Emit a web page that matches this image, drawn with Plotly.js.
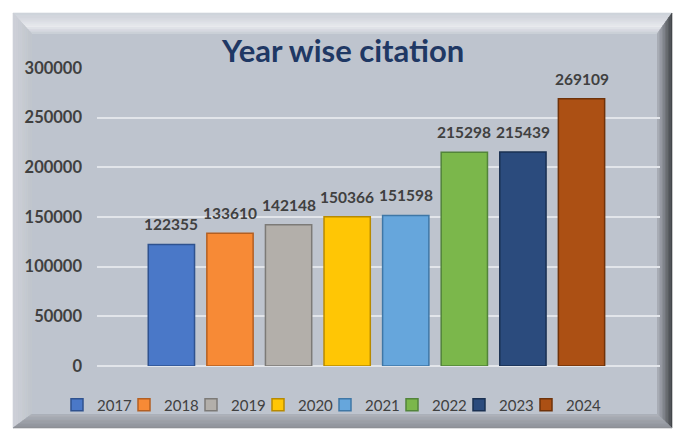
<!DOCTYPE html>
<html><head><meta charset="utf-8">
<script src="https://cdn.plot.ly/plotly-3.0.1.min.js"></script>
<style>html,body{margin:0;padding:0;background:#fff;}#chart{width:677px;height:429px;}</style>
</head><body><div id="chart"></div>
<script>
// ---- data ----
var years = ['2017','2018','2019','2020','2021','2022','2023','2024'];
var citations = [122355,133610,142148,150366,151598,215298,215439,269109];
var fillColors = ['#4a78c8','#f78a36','#b3afaa','#ffc605','#66a6dc','#7bb74b','#2b4b7d','#ac5014'];
var edgeColors = ['#2f528f','#b35f22','#7c7a77','#b88a00','#3f77a6','#52843a','#1a3052','#6f3209'];
var titleText = 'Year wise citation';
var yTicks = [0,50000,100000,150000,200000,250000,300000];

// ---- geometry helpers (pixels -> paper) ----
var W = 677, H = 429, ML = 97, MR = 17, MT = 68, MB = 63;
var PW = W - ML - MR, PH = H - MT - MB;
function px(x){ return (x - ML) / PW; }
function py(y){ return (H - MB - y) / PH; }
function hex2rgb(h){ return [parseInt(h.substr(1,2),16),parseInt(h.substr(3,2),16),parseInt(h.substr(5,2),16)]; }
function mix(stops, t){
  var n = stops.length - 1, s = Math.min(n - 1e-9, t * n), i = Math.floor(s), f = s - i;
  var a = hex2rgb(stops[i]), b = hex2rgb(stops[i+1]);
  return 'rgb(' + a.map(function(v,k){ return Math.round(v + (b[k]-v)*f); }).join(',') + ')';
}
function lerp(p, q, t){ return [p[0] + (q[0]-p[0])*t, p[1] + (q[1]-p[1])*t]; }
function pathOf(pts){
  return 'M' + pts.map(function(p){ return px(p[0]) + ',' + py(p[1]); }).join('L') + 'Z';
}
var shapes = [];
var O = {l:13, t:13, r:672, b:428}, I = {l:32, t:34, r:657, b:414};
shapes.push({type:'rect', xref:'paper', yref:'paper', x0:px(O.l), x1:px(O.r), y0:py(O.b), y1:py(O.t),
  fillcolor:'#b4b9c1', line:{width:0}, layer:'below'});
function bevel(o1, o2, i1, i2, stops){
  var N = 10;
  for (var k = 0; k < N; k++){
    var t0 = k / N, t1 = (k + 1) / N;
    var pts = [lerp(o1, i1, t0), lerp(o2, i2, t0), lerp(o2, i2, t1), lerp(o1, i1, t1)];
    shapes.push({type:'path', xref:'paper', yref:'paper', path:pathOf(pts),
      fillcolor: mix(stops, (k + 0.5) / N), line:{width:0.6, color: mix(stops, (k + 0.5) / N)}, layer:'below'});
  }
}
// top
bevel([O.l,O.t],[O.r,O.t],[I.l,I.t],[I.r,I.t], ['#cdd1d8','#d9dce2','#e9ebef','#c6cbd3']);
// left
bevel([O.l,O.t],[O.l,O.b],[I.l,I.t],[I.l,I.b], ['#cfd2d8','#c8ccd3','#c0c5cd']);
// right
bevel([O.r,O.t],[O.r,O.b],[I.r,I.t],[I.r,I.b], ['#3e4145','#63676c','#8d9198','#adb2ba']);
// bottom
bevel([O.l,O.b],[O.r,O.b],[I.l,I.b],[I.r,I.b], ['#8b8f96','#9ca0a8','#aeb3bb']);
// interior
shapes.push({type:'rect', xref:'paper', yref:'paper', x0:px(I.l), x1:px(I.r), y0:py(I.b), y1:py(I.t),
  fillcolor:'#bec4ce', line:{width:0}, layer:'below'});

// ---- traces ----
var traces = years.map(function(yr, i){
  var t = {
    type:'bar', name: yr, x:[yr], y:[citations[i]], width:0.79,
    marker:{color: fillColors[i], line:{color: edgeColors[i], width:1.5}},
    hoverinfo:'none', textposition:'none'
  };
  if (i === years.length - 1) t.legendwidth = 40;
  return t;
});
var annotations = years.map(function(yr, i){
  return {x: i, y: citations[i], xref:'x', yref:'y', text: '<b>' + citations[i] + '</b>',
    showarrow:false, xanchor:'center', yanchor:'bottom', yshift:9,
    font:{family:'Lato, sans-serif', size:15.5, color:'#404040'}};
});

var layout = {
  width: W, height: H,
  margin:{l:ML, r:MR, t:MT, b:MB, pad:0, autoexpand:false},
  paper_bgcolor:'#ffffff', plot_bgcolor:'rgba(0,0,0,0)',
  barmode:'overlay',
  title:{text:'<b>' + titleText + '</b>', xref:'container', yref:'container', x:0.507, y:1 - 51/H, xanchor:'center', yanchor:'middle',
    font:{family:'Lato, sans-serif', size:31, color:'#1f3864'}},
  xaxis:{type:'category', categoryorder:'array', categoryarray:years, range:[-1.27, 8.34],
    showticklabels:false, showgrid:false, zeroline:false, showline:false, ticks:'', fixedrange:true},
  yaxis:{range:[0,300000], tickvals:yTicks, ticktext:yTicks.map(String), showgrid:true, gridcolor:'#e2e5ea', gridwidth:2,
    zeroline:true, zerolinecolor:'#e2e5ea', zerolinewidth:2, showline:false, ticks:'', ticklabelstandoff:14,
    tickfont:{family:'Lato, sans-serif', size:16.5, color:'#404040', weight:'bold'}, fixedrange:true},
  showlegend:true,
  legend:{orientation:'h', x:px(57), xanchor:'left', y:py(405), yanchor:'middle', bgcolor:'rgba(0,0,0,0)',
    entrywidth:22, entrywidthmode:'pixels',
    font:{family:'Lato, sans-serif', size:15, color:'#404040'}, itemwidth:30, traceorder:'normal', itemclick:false, itemdoubleclick:false},
  shapes: shapes,
  annotations: annotations
};
Plotly.newPlot('chart', traces, layout, {displayModeBar:false, staticPlot:true});
</script></body></html>
